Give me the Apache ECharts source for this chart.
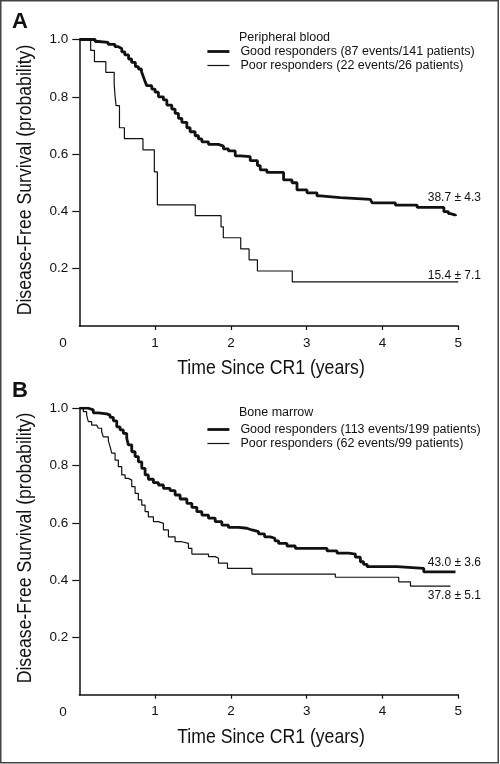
<!DOCTYPE html>
<html>
<head>
<meta charset="utf-8">
<script src="https://cdn.jsdelivr.net/npm/echarts@6/dist/echarts.min.js"></script>
<style>
html,body{margin:0;padding:0;background:#fff;}
#chart{width:500px;height:764px;}
</style>
</head>
<body>
<div id="chart"></div>
<script>
// ---- Data ----
var xTicks = [1, 2, 3, 4, 5];
var yTicks = [0.2, 0.4, 0.6, 0.8, 1.0];

var xTitle = 'Time Since CR1 (years)';
var yTitle = 'Disease-Free Survival (probability)';
var panelA_title = 'Peripheral blood';
var panelB_title = 'Bone marrow';

var goodA_name = 'Good responders (87 events/141 patients)';
var poorA_name = 'Poor responders (22 events/26 patients)';
var goodB_name = 'Good responders (113 events/199 patients)';
var poorB_name = 'Poor responders (62 events/99 patients)';

var goodA_t = [0,0.21,0.25,0.38,0.47,0.515,0.56,0.60,0.65,0.69,0.74,0.78,0.82,0.845,0.868,0.89,0.956,1.0,1.044,1.11,1.155,1.22,1.264,1.308,1.353,1.419,1.462,1.528,1.572,1.617,1.704,1.836,1.902,1.968,2.057,2.123,2.255,2.35,2.387,2.475,2.695,2.806,2.872,3.004,3.136,3.18,3.444,3.84,3.863,4.17,4.457,4.81,4.87,4.897,4.963];
var goodA_s = [1,0.993,0.990,0.983,0.975,0.969,0.957,0.946,0.932,0.920,0.905,0.897,0.888,0.870,0.853,0.839,0.827,0.816,0.800,0.789,0.771,0.757,0.742,0.725,0.711,0.692,0.678,0.664,0.653,0.643,0.634,0.628,0.618,0.611,0.594,0.591,0.577,0.560,0.545,0.536,0.510,0.500,0.475,0.465,0.454,0.448,0.442,0.437,0.430,0.422,0.414,0.399,0.392,0.387,0.384];

var poorA_t = [0,0.15,0.20,0.35,0.46,0.47,0.485,0.53,0.595,0.84,0.99,1.03,1.53,1.87,1.90,2.13,2.24,2.35,2.81,5.0];
var poorA_s = [1,0.962,0.923,0.885,0.846,0.808,0.769,0.692,0.654,0.615,0.538,0.423,0.385,0.346,0.308,0.269,0.231,0.192,0.154,0.154];

var goodB_t = [0,0.119,0.185,0.251,0.362,0.406,0.449,0.494,0.538,0.581,0.626,0.647,0.692,0.736,0.779,0.824,0.868,0.911,0.978,1.044,1.11,1.198,1.264,1.33,1.419,1.485,1.551,1.617,1.704,1.793,1.881,1.968,2.1,2.211,2.277,2.365,2.444,2.519,2.58,2.629,2.74,2.85,3.268,3.4,3.554,3.642,3.708,3.75,3.797,4.193,4.544,4.963];
var goodB_s = [1,0.994,0.984,0.980,0.976,0.968,0.956,0.935,0.924,0.912,0.895,0.872,0.848,0.831,0.813,0.790,0.767,0.752,0.740,0.732,0.720,0.712,0.697,0.683,0.668,0.654,0.639,0.627,0.616,0.604,0.592,0.584,0.581,0.575,0.569,0.561,0.551,0.546,0.537,0.528,0.519,0.511,0.502,0.494,0.491,0.480,0.464,0.455,0.447,0.441,0.429,0.429];

var poorB_t = [0,0.053,0.097,0.119,0.163,0.229,0.251,0.295,0.317,0.383,0.406,0.428,0.472,0.515,0.56,0.604,0.647,0.692,0.736,0.779,0.824,0.868,0.911,0.978,1.044,1.11,1.176,1.264,1.353,1.44,1.485,1.704,1.793,1.836,1.955,2.277,3.378,4.214,4.369,4.897];
var poorB_s = [1,0.988,0.976,0.953,0.941,0.938,0.930,0.918,0.900,0.887,0.866,0.843,0.819,0.796,0.767,0.755,0.749,0.726,0.703,0.680,0.662,0.639,0.621,0.604,0.598,0.575,0.551,0.534,0.528,0.511,0.491,0.482,0.476,0.459,0.441,0.421,0.410,0.394,0.379,0.379];

var endLabels = ['38.7 \u00b1 4.3', '15.4 \u00b1 7.1', '43.0 \u00b1 3.6', '37.8 \u00b1 5.1'];

// ---- Build ----
function pairs(t, s) { return t.map(function (v, i) { return [v, s[i]]; }); }

var SANS = "'Liberation Sans', Arial, sans-serif";
var INK = '#111';
var THICK = 2.8, THIN = 1.2;

function xAxis(gi) {
  return {
    type: 'value', gridIndex: gi, min: 0, max: 5, interval: 1,
    axisLine: { lineStyle: { color: INK, width: 1.5 } },
    axisTick: { show: true, length: 4, customValues: xTicks, lineStyle: { color: INK, width: 1.2 } },
    axisLabel: { customValues: xTicks, margin: 10, fontFamily: SANS, fontSize: 13.5, color: INK },
    splitLine: { show: false }
  };
}
function yAxis(gi) {
  return {
    type: 'value', gridIndex: gi, min: 0, max: 1, interval: 0.2,
    axisLine: { show: true, lineStyle: { color: INK, width: 1.5 } },
    axisTick: { show: true, length: 7, customValues: yTicks, lineStyle: { color: INK, width: 1.2 } },
    axisLabel: { customValues: yTicks, margin: 11, fontFamily: SANS, fontSize: 13.5, color: INK,
      formatter: function (v) { return v.toFixed(1); } },
    splitLine: { show: false }
  };
}
function line(name, data, gi, w) {
  return {
    type: 'line', name: name, data: data, xAxisIndex: gi, yAxisIndex: gi,
    step: 'end', showSymbol: false, symbol: 'none', silent: true, animation: false,
    lineStyle: { color: INK, width: w }, itemStyle: { color: INK }
  };
}
function legend(names, top) {
  return {
    orient: 'vertical', left: 201, top: top, itemWidth: 22, itemHeight: 14, itemGap: 1,
    data: [
      { name: names[0], lineStyle: { width: THICK, color: INK } },
      { name: names[1], lineStyle: { width: THIN, color: INK } }
    ],
    selectedMode: false,
    itemStyle: { opacity: 0 },
    textStyle: { fontFamily: SANS, fontSize: 12.5, color: INK, padding: [0, 0, 0, 6] }
  };
}
function txt(x, y, s, opt, extra) {
  return Object.assign({ type: 'text', x: x, y: y, silent: true,
    style: Object.assign({ text: s, fill: INK, font: '13.5px ' + SANS, textVerticalAlign: 'middle' }, opt || {}) }, extra || {});
}
function xName(y) {
  return txt(271, y, xTitle, { font: '21px ' + SANS, textAlign: 'center' }, { scaleX: 0.84 });
}
function yName(y) {
  return txt(25, y, yTitle, { font: '21px ' + SANS, textAlign: 'center' }, { scaleX: 0.84, rotation: Math.PI / 2 });
}

var option = {
  backgroundColor: '#fff',
  animation: false,
  grid: [
    { left: 79.3, right: 41.7, top: 39.5, height: 286.5 },
    { left: 79.3, right: 41.7, top: 408.2, height: 286.5 }
  ],
  xAxis: [xAxis(0), xAxis(1)],
  yAxis: [yAxis(0), yAxis(1)],
  legend: [legend([goodA_name, poorA_name], 40), legend([goodB_name, poorB_name], 418)],
  series: [
    line(goodA_name, pairs(goodA_t, goodA_s), 0, THICK),
    line(poorA_name, pairs(poorA_t, poorA_s), 0, THIN),
    line(goodB_name, pairs(goodB_t, goodB_s), 1, THICK),
    line(poorB_name, pairs(poorB_t, poorB_s), 1, THIN)
  ],
  graphic: [
    { type: 'rect', silent: true, shape: { x: 0.75, y: 0.75, width: 497.5, height: 762 }, style: { fill: 'none', stroke: '#444', lineWidth: 1.5 } },
    txt(12, 22, 'A', { font: 'bold 22px ' + SANS }),
    txt(12, 391, 'B', { font: 'bold 22px ' + SANS }),
    txt(239, 38, panelA_title, { font: '12.5px ' + SANS }),
    txt(239, 413, panelB_title, { font: '12.5px ' + SANS }),
    txt(63, 343, '0', { textAlign: 'center' }),
    txt(63, 712, '0', { textAlign: 'center' }),
    xName(368), xName(737),
    yName(180), yName(548),
    txt(481, 198, endLabels[0], { textAlign: 'right', font: '12px ' + SANS }),
    txt(481, 276, endLabels[1], { textAlign: 'right', font: '12px ' + SANS }),
    txt(481, 563, endLabels[2], { textAlign: 'right', font: '12px ' + SANS }),
    txt(481, 596, endLabels[3], { textAlign: 'right', font: '12px ' + SANS })
  ]
};

var chart = echarts.init(document.getElementById('chart'), null, { renderer: 'canvas' });
chart.setOption(option);
</script>
</body>
</html>
